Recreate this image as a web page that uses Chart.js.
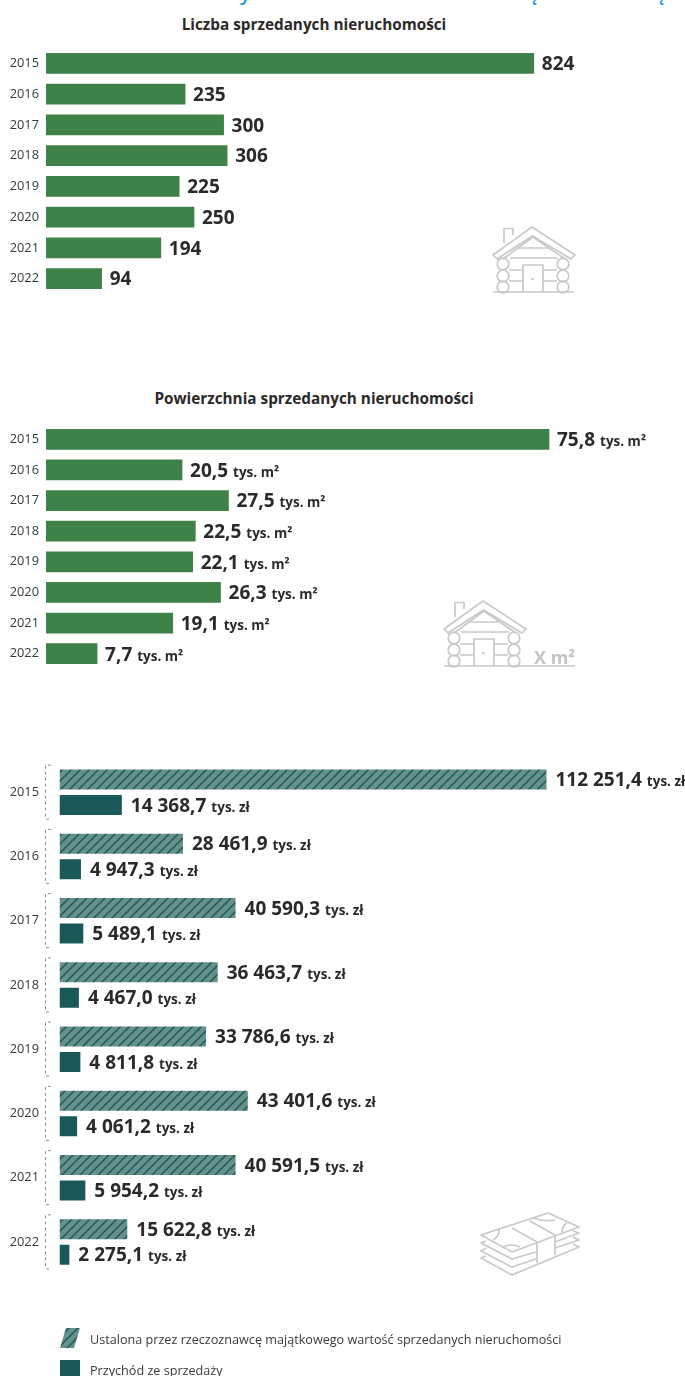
<!DOCTYPE html>
<html lang="pl"><head><meta charset="utf-8">
<script src="https://cdn.jsdelivr.net/npm/chart.js@4"></script>
<style>
html,body{margin:0;padding:0;background:#fff;width:685px;height:1376px;overflow:hidden;font-family:"Open Sans",sans-serif;color:#2b2a29}
.abs{position:absolute}
.title{position:absolute;left:0;width:628px;text-align:center;font-weight:700;font-size:15.3px;line-height:20px;white-space:nowrap}
.leg{position:absolute;font-size:12.64px;line-height:16px;white-space:nowrap;color:#3a3a39}
.sw{position:absolute;left:60px;width:20px;height:20px}
.blue{position:absolute;top:-19px;font-size:20px;line-height:24px;color:#1a9ad6;font-weight:600}
svg{position:absolute;left:0;top:0;pointer-events:none}
svg *{fill:none;stroke:#c9c9c9;stroke-width:1.7;stroke-linejoin:round}
</style></head><body>
<span class="blue" style="left:240px">y</span>
<span class="blue" style="left:526px">ą</span>
<span class="blue" style="left:653px">ą</span>
<div class="title" style="top:14px">Liczba sprzedanych nieruchomości</div>
<div class="title" style="top:388px">Powierzchnia sprzedanych nieruchomości</div>
<canvas id="c1" class="abs" style="left:0;top:48px"></canvas>
<canvas id="c2" class="abs" style="left:0;top:424px"></canvas>
<canvas id="c3" class="abs" style="left:0;top:760px"></canvas>
<svg width="685" height="1376" viewBox="0 0 685 1376">
<defs><g id="house">
<path d="M11 16V1.500h9V8"/>
<path d="M0 28 39 0 82 28 78 32 39.500 9 4 32Z"/>
<path d="M10 32 40 10 72 32"/>
<path d="M25 21H55M17 31H65M16 43H30M50 43H64M16 54H30M50 54H64"/>
<circle cx="10" cy="37" r="5.800"/><circle cx="10" cy="49" r="5.800"/><circle cx="10" cy="60" r="5.800"/>
<circle cx="70" cy="37" r="5.800"/><circle cx="70" cy="49" r="5.800"/><circle cx="70" cy="60" r="5.800"/>
<path d="M30 65V38H50V65"/><path d="M38 52H41"/>
</g></defs>
<use href="#house" x="493" y="227"/>
<path d="M493 292H574"/>
<use href="#house" x="444" y="601"/>
<path d="M444 666H575"/>
<path d="M481 1235 548 1213 579 1227 512 1252Z"/>
<path d="M512 1228 537 1242V1263M530 1221 555 1235V1255"/>
<path d="M486 1241 481 1243 512 1259 536 1252M486 1248 481 1251 512 1267 536 1259M486 1256 481 1258 512 1275 579 1247 573 1244"/>
<path d="M573 1231 579 1233 555 1242M573 1237 579 1240 555 1248"/>
<path d="M499 1229Q500 1236 493 1240M503 1247Q512 1243 520 1247M533 1218Q545 1222 555 1220M562 1232Q562 1226 567 1223"/>
</svg>
<div class="abs" style="left:534px;top:645px;font-size:18px;line-height:24px;font-weight:700;color:#c4c4c4">X m²</div>
<canvas id="sw1" class="sw" width="20" height="20" style="top:1328px"></canvas>
<div class="sw" style="top:1360px;height:16px;background:#1b5959"></div>
<div class="leg" style="left:90px;top:1331px">Ustalona przez rzeczoznawcę majątkowego wartość sprzedanych nieruchomości</div>
<div class="leg" style="left:90px;top:1362px">Przychód ze sprzedaży</div>
<script>
const years = ["2015","2016","2017","2018","2019","2020","2021","2022"];
const soldCount = [824,235,300,306,225,250,194,94];
const soldArea = [75.8,20.5,27.5,22.5,22.1,26.3,19.1,7.7];
const appraisedValue = [112251.4,28461.9,40590.3,36463.7,33786.6,43401.6,40591.5,15622.8];
const saleRevenue = [14368.7,4947.3,5489.1,4467.0,4811.8,4061.2,5954.2,2275.1];
const GREEN="#3f8247", TEAL="#1b5959", HATCH_BG="#66908c", INK="#2b2a29";
const FONT='"Open Sans", sans-serif';

function fmt(v,dec){
  const s=v.toFixed(dec).split(".");
  const i=s[0].replace(/\B(?=(\d{3})+$)/g," ");
  return dec? i+","+s[1] : i;
}
function hatchTile(){
  const n=9,t=document.createElement("canvas");t.width=n;t.height=n;
  const g=t.getContext("2d");
  g.fillStyle=HATCH_BG;g.fillRect(0,0,n,n);
  g.strokeStyle=TEAL;g.lineWidth=1.5;
  [[-2,2,2,-2],[-2,n+2,n+2,-2],[n-2,n+2,n+2,n-2]].forEach(l=>{g.beginPath();g.moveTo(l[0],l[1]);g.lineTo(l[2],l[3]);g.stroke();});
  return t;
}
const sw=document.getElementById("sw1").getContext("2d");
sw.fillStyle=sw.createPattern(hatchTile(),"repeat");
sw.beginPath();sw.moveTo(6,0);sw.lineTo(20,0);sw.lineTo(14,20);sw.lineTo(0,20);sw.closePath();sw.fill();

const valueLabels={id:"valueLabels",afterDatasetsDraw(chart,args,o){
  const c=chart.ctx;c.save();c.textBaseline="alphabetic";
  chart.data.datasets.forEach((ds,di)=>{
    chart.getDatasetMeta(di).data.forEach((bar,i)=>{
      const x=bar.x+o.gap, y=bar.y+o.size*0.36;
      const t=fmt(ds.data[i],o.dec);
      c.fillStyle=INK;c.font=`700 ${o.size}px ${FONT}`;
      c.textAlign="left";c.fillText(t,x,y);
      if(o.unit){const w=c.measureText(t).width;
        c.font=`700 ${o.unitSize}px ${FONT}`;c.fillText(o.unit,x+w+5,y);}
    });
  });
  c.restore();
}};
const brackets={id:"brackets",afterDraw(chart,args,o){
  if(!o.on)return;
  const c=chart.ctx,s=chart.scales.y;c.save();
  c.strokeStyle="#8f8f8e";c.lineWidth=1;c.setLineDash([3,3]);
  years.forEach((_,i)=>{const m=s.getPixelForValue(i);
    c.beginPath();c.moveTo(51,m-27);c.lineTo(45.500,m-27);c.lineTo(45.500,m+27);c.lineTo(51,m+27);c.stroke();});
  c.restore();
}};
function bars(id,h,left,max,datasets,labelOpts,bracketOn){
  const cv=document.getElementById(id);
  cv.width=685;cv.height=h;cv.style.width="685px";cv.style.height=h+"px";
  new Chart(cv,{type:"bar",data:{labels:years,datasets:datasets},plugins:[valueLabels,brackets],
    options:{indexAxis:"y",responsive:false,animation:false,devicePixelRatio:1,
      layout:{padding:0},
      plugins:{legend:{display:false},title:{display:false},tooltip:{enabled:false},valueLabels:labelOpts,brackets:{on:bracketOn}},
      scales:{
        x:{display:false,min:0,max:max},
        y:{afterFit(a){a.width=left;a.paddingTop=0;a.paddingBottom=0;},
           grid:{display:false,drawTicks:false},border:{display:false},
           ticks:{padding:bracketOn?20.5:7,color:"#3a3a39",font:{family:FONT,size:12.8},autoSkip:false}}
      }} });
}
const one={barThickness:20};
bars("c1",246,46,(685-46)/0.592,
  [Object.assign({data:soldCount,backgroundColor:GREEN},one)],
  {gap:8,size:19,dec:0,unit:""},false);
bars("c2",245,46,(685-46)/6.636,
  [Object.assign({data:soldArea,backgroundColor:GREEN},one)],
  {gap:8,size:19,dec:1,unit:"tys. m²",unitSize:13.5},false);
const pat=document.getElementById("c3").getContext("2d").createPattern(hatchTile(),"repeat");
const pair={categoryPercentage:51/64.25,barPercentage:20/25.5};
bars("c3",514,59.5,(685-59.5)/0.004338,
  [Object.assign({data:appraisedValue,backgroundColor:pat},pair),
   Object.assign({data:saleRevenue,backgroundColor:TEAL},pair)],
  {gap:9,size:19,dec:1,unit:"tys. zł",unitSize:13.5},true);
</script>
</body></html>
